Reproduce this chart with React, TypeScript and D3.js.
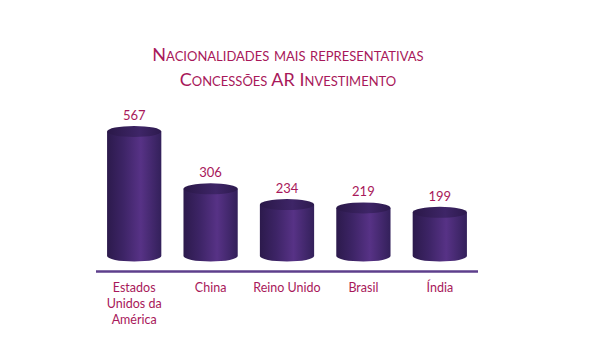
import React from "react";
import * as d3 from "d3";

const categories: string[][] = [["Estados", "Unidos da", "América"], ["China"], ["Reino Unido"], ["Brasil"], ["Índia"]];
const values: number[] = [567, 306, 234, 219, 199];
const titleLines: string[] = ["Nacionalidades mais representativas", "Concessões AR Investimento"];

const W = 600, H = 351;
const x0 = 96, x1 = 478;
const baseY = 256;
const ry = 5.5;
const textColor = "#a8185a";

export default function App() {
  const x = d3.scaleBand<number>().domain(d3.range(values.length)).range([x0, x1]).paddingInner(0.29).paddingOuter(0.145);
  const y = d3.scaleLinear().domain([0, 567]).range([baseY, 131.5]);
  const bw = x.bandwidth();
  return (
    <svg width={W} height={H} style={{ position: "absolute", left: 0, top: 0 }} fontFamily="Lato, 'Open Sans', sans-serif">
      <defs>
        <linearGradient id="body" x1="0" x2="1" y1="0" y2="0">
          <stop offset="0" stopColor="#2c1a4c" />
          <stop offset="0.3" stopColor="#3d2466" />
          <stop offset="0.62" stopColor="#573286" />
          <stop offset="1" stopColor="#33205a" />
        </linearGradient>
        <linearGradient id="top" x1="0" x2="1" y1="0" y2="0">
          <stop offset="0" stopColor="#2a1848" />
          <stop offset="0.6" stopColor="#3e2567" />
          <stop offset="1" stopColor="#2d1a4e" />
        </linearGradient>
      </defs>
      <g textAnchor="middle" fill={textColor} fontSize={18} style={{ fontVariant: "small-caps" }}>
        {titleLines.map((t, i) => (
          <text key={i} x={288} y={61 + i * 25}>{t}</text>
        ))}
      </g>
      {values.map((v, i) => {
        const cx = (x(i) as number) + bw / 2;
        const left = x(i) as number;
        const ty = y(v);
        const rx = bw / 2;
        const path = `M${left},${ty} L${left},${baseY} A${rx},${ry} 0 0 0 ${left + bw},${baseY} L${left + bw},${ty} Z`;
        return (
          <g key={i}>
            <path d={path} fill="url(#body)" />
            <ellipse cx={cx} cy={ty} rx={rx} ry={ry} fill="url(#top)" />
            <text x={cx} y={ty - ry - 6} textAnchor="middle" fill={textColor} fontSize={13}>{v}</text>
            {categories[i].map((l, j) => (
              <text key={j} x={cx} y={292 + j * 16} textAnchor="middle" fill={textColor} fontSize={12.5}>{l}</text>
            ))}
          </g>
        );
      })}
      <line x1={x0} x2={x1} y1={271.5} y2={271.5} stroke="#5e3f8c" strokeWidth={2.5} />
    </svg>
  );
}
